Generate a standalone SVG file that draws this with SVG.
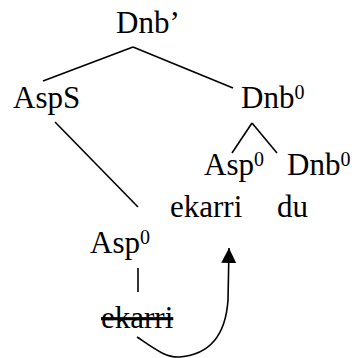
<svg xmlns="http://www.w3.org/2000/svg" width="354" height="358" viewBox="0 0 354 358">
<style>
text{font-family:'Liberation Serif','Times New Roman',serif;font-size:31px;fill:#000}
.sup{font-size:20px}
.e{stroke:#000;stroke-width:1.6;fill:none}
</style>
<defs>
<marker id="ah" markerWidth="16" markerHeight="16" refX="15" refY="7.5" orient="auto" markerUnits="userSpaceOnUse">
<path d="M0,0 L15,7.5 L0,15 Z" fill="#000"/>
</marker>
</defs>
<g id="connectors">
<line class="e" x1="133" y1="47" x2="43" y2="81"/>
<line class="e" x1="133" y1="47" x2="233" y2="88"/>
<line class="e" x1="252" y1="123" x2="232" y2="153"/>
<line class="e" x1="252" y1="123" x2="277" y2="153"/>
<line class="e" x1="55" y1="122" x2="138" y2="207"/>
<line class="e" x1="138" y1="268" x2="138" y2="292"/>
<path class="e" d="M137,337 C155,349 166,358 180,357 C214,354 226,330 228,300 L229,248" marker-end="url(#ah)"/>
</g>
<g id="n-dnbbar"><text x="116" y="33">Dnb’</text></g>
<g id="n-asps"><text x="13" y="108">AspS</text></g>
<g id="n-dnb0"><text x="241" y="108">Dnb<tspan class="sup" dy="-9">0</tspan></text></g>
<g id="n-asp0-hi"><text x="204" y="175">Asp<tspan class="sup" dy="-9">0</tspan></text></g>
<g id="n-dnb0-lo"><text x="287" y="175">Dnb<tspan class="sup" dy="-9">0</tspan></text></g>
<g id="n-ekarri"><text x="170" y="217">ekarri</text></g>
<g id="n-du"><text x="277" y="217">du</text></g>
<g id="n-asp0-lo"><text x="90" y="253">Asp<tspan class="sup" dy="-9">0</tspan></text></g>
<g id="n-ekarri-trace"><text x="101" y="328" text-decoration="line-through">ekarri</text></g>
</svg>
